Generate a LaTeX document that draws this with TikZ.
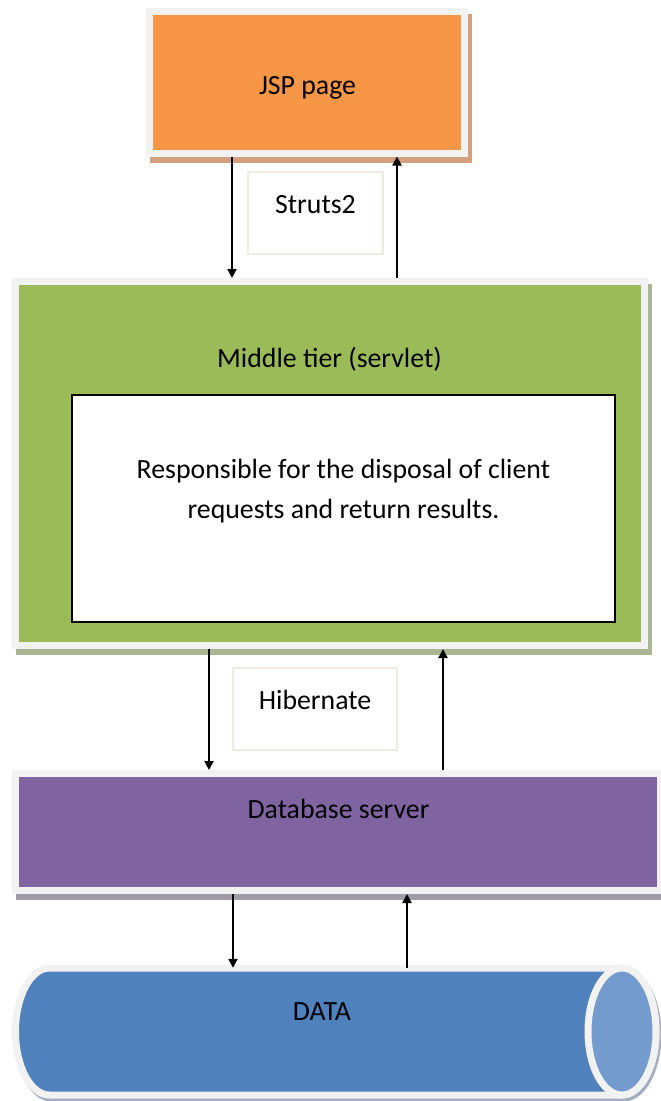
\documentclass[tikz,border=0pt]{standalone}
\usepackage{fontspec}
\setmainfont{Carlito}
\usetikzlibrary{positioning,arrows.meta,shapes.geometric,shadows}

\definecolor{frm}{HTML}{F2F2F2}
\definecolor{jspc}{HTML}{F79646}
\definecolor{jsps}{HTML}{D3A17F}
\definecolor{midc}{HTML}{9BBB59}
\definecolor{mids}{HTML}{A8B693}
\definecolor{dbc}{HTML}{8064A2}
\definecolor{dbs}{HTML}{A19DA8}
\definecolor{datc}{HTML}{4F81BD}
\definecolor{date}{HTML}{739BCD}
\definecolor{dats}{HTML}{A3AEC0}
\definecolor{tagc}{HTML}{EEECE1}

\begin{document}
\begin{tikzpicture}[
  x=1pt, y=-1pt,
  font=\fontsize{27.8}{40}\selectfont,
  tier/.style={rectangle, draw=frm, line width=7pt, inner sep=0pt,
               drop shadow={shadow xshift=4pt, shadow yshift=-6pt, fill=#1, draw=#1,
                            line width=7pt, opacity=1}},
  tag/.style={rectangle, draw=tagc, line width=1.5pt, fill=white, inner sep=0pt,
              minimum height=82pt, text depth=18pt},
  txt/.style={inner sep=0pt, align=center},
  flow/.style={-{Triangle[length=9pt,width=9pt]}, line width=2pt}
]
\useasboundingbox (0,0) rectangle (661,1101);

% tiers
\node[tier=jsps, fill=jspc, minimum width=315pt, minimum height=142pt] (jsp) at (307,82) {};
\node[txt, anchor=base] (jsptext) at (307.5,94) {JSP page};

\node[tier=mids, fill=midc, minimum width=629pt, minimum height=364pt] (mid) at (330,463.5) {};
\node[txt, anchor=base] (midtext) at (329.5,367) {Middle tier (servlet)};
\node[rectangle, draw=black, line width=2pt, fill=white, inner sep=0pt,
      minimum width=543pt, minimum height=227pt] (resp) at (343.5,508.5) {};
\node[txt] (resptext) at (343.5,491) {Responsible for the disposal of client\\requests and return results.};

\node[tier=dbs, fill=dbc, minimum width=645pt, minimum height=117pt] (db) at (338,832) {};
\node[txt, anchor=base] (dbtext) at (338.5,818) {Database server};

% data store (cylinder lying on its side)
\node[inner sep=0pt, minimum width=641.5pt, minimum height=127pt] (data) at (336.25,1031.5) {};
\fill[dats, shift={(2,3)}] (49.5,964.5) -- (622,964.5)
  arc[start angle=-90, end angle=90, x radius=37.5, y radius=67] -- (49.5,1098.5)
  arc[start angle=90, end angle=270, x radius=37.5, y radius=67] -- cycle;
\draw[frm, fill=datc, line width=7pt] (49.5,968) -- (622,968)
  arc[start angle=-90, end angle=90, x radius=34, y radius=63.5] -- (49.5,1095)
  arc[start angle=90, end angle=270, x radius=34, y radius=63.5] -- cycle;
\draw[frm, fill=date, line width=7pt] (622,1031.5) ellipse[x radius=34, y radius=63.5];
\node[txt, anchor=base] (datatext) at (322,1020) {DATA};

% framework labels
\node[tag, minimum width=135pt] (struts) at (315.5,213) {Struts2};
\node[tag, minimum width=164pt] (hib) at (315,709) {Hibernate};

% request / response arrows
\coordinate (jspdown) at (232,0);
\coordinate (jspup) at (397,0);
\coordinate (middown) at (209,0);
\coordinate (midup) at (443,0);
\coordinate (dbdown) at (233,0);
\coordinate (dbup) at (407,0);

\draw[flow] (jsp.south -| jspdown) -- (mid.north -| jspdown);
\draw[flow] (mid.north -| jspup) -- (jsp.south -| jspup);
\draw[flow] (mid.south -| middown) -- (db.north -| middown);
\draw[flow] (db.north -| midup) -- (mid.south -| midup);
\draw[flow] (db.south -| dbdown) -- (data.north -| dbdown);
\draw[flow] (data.north -| dbup) -- (db.south -| dbup);
\end{tikzpicture}
\end{document}
